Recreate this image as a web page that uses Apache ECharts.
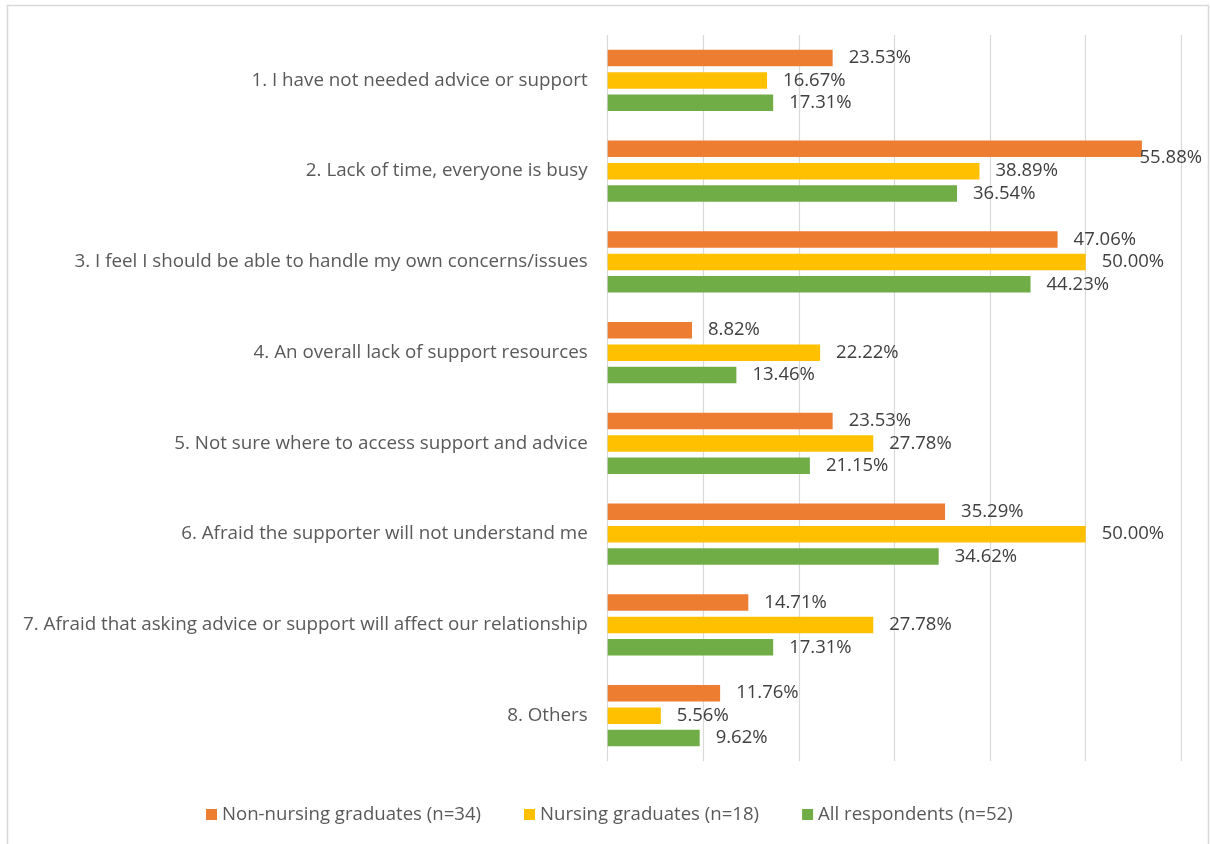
<!DOCTYPE html>
<html>
<head>
<meta charset="utf-8">
<title>Reasons for not seeking advice or support</title>
<script src="https://cdn.jsdelivr.net/npm/echarts@6/dist/echarts.min.js"></script>
<style>
  html, body { margin: 0; padding: 0; background: #ffffff; }
  #chart { width: 1210px; height: 844px; }
</style>
</head>
<body>
<div id="chart"></div>
<script>
// Survey reasons (category axis, top to bottom)
const categories = [
  '1. I have not needed advice or support',
  '2. Lack of time, everyone is busy',
  '3. I feel I should be able to handle my own concerns/issues',
  '4. An overall lack of support resources',
  '5. Not sure where to access support and advice',
  '6. Afraid the supporter will not understand me',
  '7. Afraid that asking advice or support will affect our relationship',
  '8. Others'
];

// Percentages of each respondent group
const seriesNames = [
  'Non-nursing graduates (n=34)',
  'Nursing graduates (n=18)',
  'All respondents (n=52)'
];
const nonNursing = [23.53, 55.88, 47.06, 8.82, 23.53, 35.29, 14.71, 11.76];
const nursing    = [16.67, 38.89, 50.00, 22.22, 27.78, 50.00, 27.78, 5.56];
const allResp    = [17.31, 36.54, 44.23, 13.46, 21.15, 34.62, 17.31, 9.62];

const colors = ['#ED7D31', '#FFC000', '#70AD47'];
const FONT = '"Open Sans", "Noto Sans", sans-serif';

const chart = echarts.init(document.getElementById('chart'), null, { renderer: 'canvas' });

function barSeries(name, values, color) {
  return {
    name: name,
    type: 'bar',
    data: values,
    barWidth: 16.5,
    barGap: '36%',
    itemStyle: { color: color },
    label: {
      show: true,
      position: 'right',
      distance: 16,
      align: 'left',
      color: '#404040',
      fontFamily: FONT,
      fontSize: 18.5,
      formatter: p => p.value.toFixed(2) + '%'
    },
    // keep value labels inside the chart frame
    labelLayout: function (params) {
      const r = params.labelRect;
      const limit = chart.getWidth() - 8;
      if (r.x + r.width > limit) {
        return { x: limit - r.width, align: 'left' };
      }
      return {};
    }
  };
}

const option = {
  backgroundColor: '#ffffff',
  animation: false,
  color: colors,
  graphic: [{
    type: 'rect',
    shape: { x: 7.5, y: 5.5, width: 1201, height: 900 },
    style: { fill: 'none', stroke: '#D9D9D9', lineWidth: 1.5 },
    silent: true,
    z: -10
  }],
  grid: { left: 607.7, right: 28.7, top: 35, bottom: 83, containLabel: false },
  xAxis: {
    type: 'value',
    min: 0,
    max: 60,
    interval: 10,
    axisLabel: { show: false },
    axisLine: { show: false },
    axisTick: { show: false },
    splitLine: { show: true, lineStyle: { color: '#D9D9D9', width: 1.2 } }
  },
  yAxis: {
    type: 'category',
    inverse: true,
    data: categories,
    axisLine: { show: false },
    axisTick: { show: false },
    axisLabel: {
      margin: 20,
      color: '#595959',
      fontFamily: FONT,
      fontSize: 18.8
    }
  },
  legend: {
    bottom: 15,
    left: 201,
    icon: 'rect',
    itemWidth: 11,
    itemHeight: 11,
    itemGap: 43,
    textStyle: { color: '#595959', fontFamily: FONT, fontSize: 18.6 },
    data: seriesNames
  },
  series: [
    barSeries(seriesNames[0], nonNursing, colors[0]),
    barSeries(seriesNames[1], nursing, colors[1]),
    barSeries(seriesNames[2], allResp, colors[2])
  ]
};

chart.setOption(option);
</script>
</body>
</html>
